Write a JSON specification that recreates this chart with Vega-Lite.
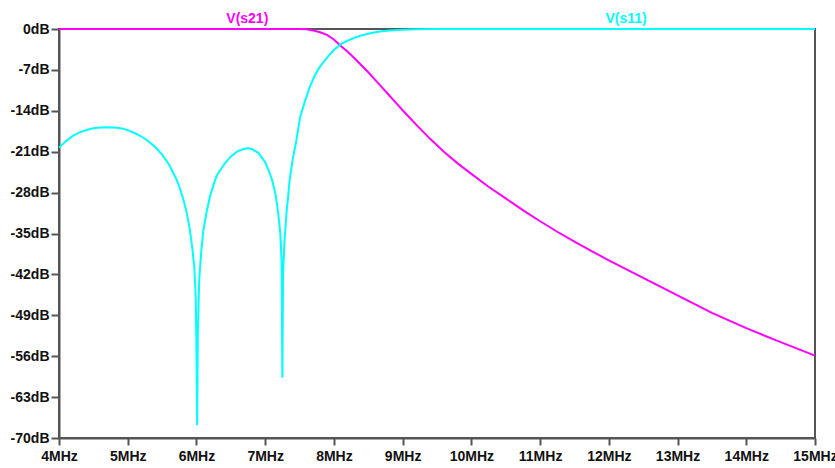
{
  "$schema": "https://vega.github.io/schema/vega-lite/v6.json",
  "autosize": "none",
  "width": 756,
  "height": 409,
  "padding": {"left": 59, "top": 29, "right": 20, "bottom": 30},
  "background": "white",
  "config": {
    "view": {"stroke": "#555555", "strokeWidth": 2},
    "font": "Liberation Sans",
    "axis": {
      "grid": false,
      "domainColor": "#555555",
      "domainWidth": 2,
      "tickColor": "#555555",
      "tickWidth": 2,
      "labelFont": "Liberation Sans",
      "labelFontSize": 14,
      "labelFontWeight": "bold",
      "labelColor": "#111111",
      "labelFlush": false,
      "labelOverlap": false,
      "title": null
    }
  },
  "datasets": {
    "traces": [
      {"f": 4.0, "db": 0, "trace": "V(s21)"},
      {"f": 7.5, "db": 0, "trace": "V(s21)"},
      {"f": 7.6, "db": -0.05, "trace": "V(s21)"},
      {"f": 7.7, "db": -0.25, "trace": "V(s21)"},
      {"f": 7.8, "db": -0.55, "trace": "V(s21)"},
      {"f": 7.9, "db": -1.0, "trace": "V(s21)"},
      {"f": 8.0, "db": -1.8, "trace": "V(s21)"},
      {"f": 8.1, "db": -2.9, "trace": "V(s21)"},
      {"f": 8.2, "db": -3.9, "trace": "V(s21)"},
      {"f": 8.3, "db": -5.0, "trace": "V(s21)"},
      {"f": 8.4, "db": -6.2, "trace": "V(s21)"},
      {"f": 8.5, "db": -7.4, "trace": "V(s21)"},
      {"f": 8.6, "db": -8.7, "trace": "V(s21)"},
      {"f": 8.7, "db": -10.0, "trace": "V(s21)"},
      {"f": 8.8, "db": -11.3, "trace": "V(s21)"},
      {"f": 8.9, "db": -12.6, "trace": "V(s21)"},
      {"f": 9.0, "db": -13.9, "trace": "V(s21)"},
      {"f": 9.2, "db": -16.4, "trace": "V(s21)"},
      {"f": 9.4, "db": -18.8, "trace": "V(s21)"},
      {"f": 9.6, "db": -21.0, "trace": "V(s21)"},
      {"f": 9.8, "db": -23.0, "trace": "V(s21)"},
      {"f": 10.0, "db": -24.8, "trace": "V(s21)"},
      {"f": 10.25, "db": -27.0, "trace": "V(s21)"},
      {"f": 10.5, "db": -29.0, "trace": "V(s21)"},
      {"f": 10.75, "db": -31.0, "trace": "V(s21)"},
      {"f": 11.0, "db": -32.9, "trace": "V(s21)"},
      {"f": 11.25, "db": -34.7, "trace": "V(s21)"},
      {"f": 11.5, "db": -36.4, "trace": "V(s21)"},
      {"f": 11.75, "db": -38.0, "trace": "V(s21)"},
      {"f": 12.0, "db": -39.6, "trace": "V(s21)"},
      {"f": 12.5, "db": -42.6, "trace": "V(s21)"},
      {"f": 13.0, "db": -45.6, "trace": "V(s21)"},
      {"f": 13.5, "db": -48.6, "trace": "V(s21)"},
      {"f": 14.0, "db": -51.2, "trace": "V(s21)"},
      {"f": 14.5, "db": -53.6, "trace": "V(s21)"},
      {"f": 15.0, "db": -55.9, "trace": "V(s21)"},
      {"f": 4.0, "db": -20.3, "trace": "V(s11)"},
      {"f": 4.1, "db": -19.2, "trace": "V(s11)"},
      {"f": 4.2, "db": -18.3, "trace": "V(s11)"},
      {"f": 4.3, "db": -17.7, "trace": "V(s11)"},
      {"f": 4.4, "db": -17.3, "trace": "V(s11)"},
      {"f": 4.5, "db": -17.0, "trace": "V(s11)"},
      {"f": 4.6, "db": -16.85, "trace": "V(s11)"},
      {"f": 4.7, "db": -16.8, "trace": "V(s11)"},
      {"f": 4.8, "db": -16.85, "trace": "V(s11)"},
      {"f": 4.9, "db": -17.0, "trace": "V(s11)"},
      {"f": 5.0, "db": -17.3, "trace": "V(s11)"},
      {"f": 5.1, "db": -17.8, "trace": "V(s11)"},
      {"f": 5.2, "db": -18.4, "trace": "V(s11)"},
      {"f": 5.3, "db": -19.2, "trace": "V(s11)"},
      {"f": 5.4, "db": -20.2, "trace": "V(s11)"},
      {"f": 5.5, "db": -21.5, "trace": "V(s11)"},
      {"f": 5.6, "db": -23.2, "trace": "V(s11)"},
      {"f": 5.7, "db": -25.5, "trace": "V(s11)"},
      {"f": 5.75, "db": -27.0, "trace": "V(s11)"},
      {"f": 5.8, "db": -28.8, "trace": "V(s11)"},
      {"f": 5.85, "db": -31.0, "trace": "V(s11)"},
      {"f": 5.9, "db": -34.0, "trace": "V(s11)"},
      {"f": 5.94, "db": -37.5, "trace": "V(s11)"},
      {"f": 5.97, "db": -41.0, "trace": "V(s11)"},
      {"f": 5.99, "db": -46.0, "trace": "V(s11)"},
      {"f": 6.0, "db": -55.0, "trace": "V(s11)"},
      {"f": 6.01, "db": -67.8, "trace": "V(s11)"},
      {"f": 6.02, "db": -52.0, "trace": "V(s11)"},
      {"f": 6.04, "db": -43.0, "trace": "V(s11)"},
      {"f": 6.07, "db": -38.0, "trace": "V(s11)"},
      {"f": 6.1, "db": -34.5, "trace": "V(s11)"},
      {"f": 6.15, "db": -31.2, "trace": "V(s11)"},
      {"f": 6.2, "db": -28.5, "trace": "V(s11)"},
      {"f": 6.25, "db": -26.6, "trace": "V(s11)"},
      {"f": 6.3, "db": -25.0, "trace": "V(s11)"},
      {"f": 6.4, "db": -23.2, "trace": "V(s11)"},
      {"f": 6.5, "db": -21.8, "trace": "V(s11)"},
      {"f": 6.6, "db": -20.9, "trace": "V(s11)"},
      {"f": 6.7, "db": -20.5, "trace": "V(s11)"},
      {"f": 6.75, "db": -20.4, "trace": "V(s11)"},
      {"f": 6.8, "db": -20.5, "trace": "V(s11)"},
      {"f": 6.9, "db": -21.2, "trace": "V(s11)"},
      {"f": 7.0, "db": -22.8, "trace": "V(s11)"},
      {"f": 7.05, "db": -24.2, "trace": "V(s11)"},
      {"f": 7.1, "db": -25.8, "trace": "V(s11)"},
      {"f": 7.15, "db": -28.3, "trace": "V(s11)"},
      {"f": 7.19, "db": -31.5, "trace": "V(s11)"},
      {"f": 7.22, "db": -35.0, "trace": "V(s11)"},
      {"f": 7.24, "db": -40.0, "trace": "V(s11)"},
      {"f": 7.25, "db": -59.7, "trace": "V(s11)"},
      {"f": 7.26, "db": -42.0, "trace": "V(s11)"},
      {"f": 7.28, "db": -36.5, "trace": "V(s11)"},
      {"f": 7.31, "db": -31.5, "trace": "V(s11)"},
      {"f": 7.36, "db": -25.5, "trace": "V(s11)"},
      {"f": 7.4, "db": -22.3, "trace": "V(s11)"},
      {"f": 7.45, "db": -19.3, "trace": "V(s11)"},
      {"f": 7.51, "db": -15.0, "trace": "V(s11)"},
      {"f": 7.58, "db": -12.3, "trace": "V(s11)"},
      {"f": 7.65, "db": -9.9, "trace": "V(s11)"},
      {"f": 7.72, "db": -8.0, "trace": "V(s11)"},
      {"f": 7.8, "db": -6.4, "trace": "V(s11)"},
      {"f": 7.9, "db": -4.9, "trace": "V(s11)"},
      {"f": 8.0, "db": -3.6, "trace": "V(s11)"},
      {"f": 8.1, "db": -2.6, "trace": "V(s11)"},
      {"f": 8.2, "db": -2.0, "trace": "V(s11)"},
      {"f": 8.3, "db": -1.5, "trace": "V(s11)"},
      {"f": 8.4, "db": -1.1, "trace": "V(s11)"},
      {"f": 8.5, "db": -0.8, "trace": "V(s11)"},
      {"f": 8.6, "db": -0.55, "trace": "V(s11)"},
      {"f": 8.7, "db": -0.38, "trace": "V(s11)"},
      {"f": 8.8, "db": -0.25, "trace": "V(s11)"},
      {"f": 9.0, "db": -0.12, "trace": "V(s11)"},
      {"f": 9.2, "db": -0.05, "trace": "V(s11)"},
      {"f": 9.5, "db": -0.02, "trace": "V(s11)"},
      {"f": 10.0, "db": 0, "trace": "V(s11)"},
      {"f": 15.0, "db": 0, "trace": "V(s11)"}
    ],
    "names": [
      {"trace": "V(s21)"},
      {"trace": "V(s11)"}
    ]
  },
  "layer": [
    {
      "data": {"name": "traces"},
      "mark": {"type": "line", "strokeWidth": 2, "clip": false},
      "encoding": {
        "x": {
          "field": "f",
          "type": "quantitative",
          "scale": {"domain": [4, 15], "nice": false, "zero": false},
          "axis": {
            "values": [4, 5, 6, 7, 8, 9, 10, 11, 12, 13, 14, 15],
            "labelExpr": "datum.value + 'MHz'",
            "tickSize": 7,
            "labelPadding": 4
          }
        },
        "y": {
          "field": "db",
          "type": "quantitative",
          "scale": {"domain": [-70, 0], "nice": false, "zero": false},
          "axis": {
            "values": [0, -7, -14, -21, -28, -35, -42, -49, -56, -63, -70],
            "labelExpr": "datum.value + 'dB'",
            "tickSize": 8,
            "labelPadding": 2
          }
        },
        "color": {
          "field": "trace",
          "type": "nominal",
          "scale": {"domain": ["V(s21)", "V(s11)"], "range": ["#FF00FF", "#00FFFF"]},
          "legend": null
        },
        "order": {"field": "f", "type": "quantitative"}
      }
    },
    {
      "data": {"name": "names"},
      "transform": [{"filter": "datum.trace === 'V(s21)'"}],
      "mark": {"type": "text", "font": "Liberation Sans", "fontSize": 14, "fontWeight": "bold", "baseline": "middle", "align": "center", "color": "#FF00FF", "clip": false},
      "encoding": {
        "text": {"field": "trace"},
        "x": {"datum": 6.74},
        "y": {"value": -10}
      }
    },
    {
      "data": {"name": "names"},
      "transform": [{"filter": "datum.trace === 'V(s11)'"}],
      "mark": {"type": "text", "font": "Liberation Sans", "fontSize": 14, "fontWeight": "bold", "baseline": "middle", "align": "center", "color": "#00FFFF", "clip": false},
      "encoding": {
        "text": {"field": "trace"},
        "x": {"datum": 12.25},
        "y": {"value": -10}
      }
    }
  ]
}
